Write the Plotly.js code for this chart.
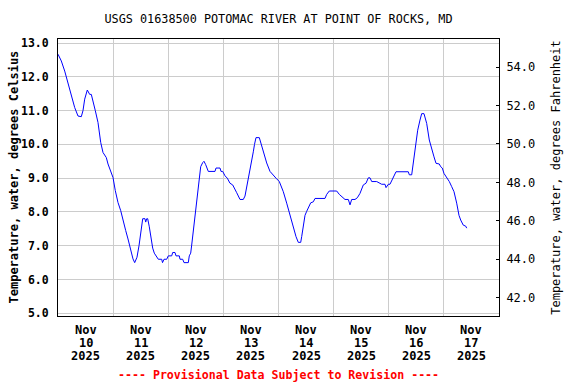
<!DOCTYPE html>
<html><head><meta charset="utf-8">
<script src="https://cdn.plot.ly/plotly-3.0.1.min.js"></script>
<style>html,body{margin:0;padding:0;background:#fff}#chart{width:576px;height:384px}</style>
</head><body><div id="chart"></div>
<script>
// ---- data ----
const chartTitle = 'USGS 01638500 POTOMAC RIVER AT POINT OF ROCKS, MD';
const footerText = '---- Provisional Data Subject to Revision ----';
const leftTitle = 'Temperature, water, degrees Celsius';
const rightTitle = 'Temperature, water, degrees Fahrenheit';
const startUTC = Date.UTC(2025, 10, 10); // Nov 10 2025 00:00
const hoursFromStart = [
  0, 1.44, 2.92, 4.35, 5.79, 7.27, 8.71, 10.14, 10.88, 11.62, 12.76, 13.8, 14.5, 15.24, 16.24, 17.41,
  18.59, 19.59, 21.03, 21.77, 22.94, 23.95, 24.95, 26.12, 27.3, 28.3, 29.47, 30.48, 31.65, 32.65, 33.39,
  34.39, 35.27, 35.7, 36.44, 36.88, 37.88, 38.18, 38.62, 39.05, 39.75, 40.49, 41.23, 41.93, 42.67, 43.67,
  45.15, 45.5, 46.15, 47.32, 48.02, 49.5, 49.94, 50.94, 51.37, 52.81, 53.12, 54.29, 54.86, 56.73, 57.16,
  57.77, 58.21, 58.9, 59.65, 60.08, 60.65, 61.08, 61.52, 62.13, 63.0, 63.56, 64.3, 65.44, 68.35, 68.79,
  70.53, 70.97, 71.7, 72.71, 73.71, 74.88, 76.06, 76.76, 77.8, 79.24, 80.67, 81.41, 82.15, 82.85, 83.59,
  84.33, 85.03, 85.55, 86.2, 87.64, 88.68, 89.38, 90.86, 92.3, 93.74, 94.91, 96.35, 98.09, 99.57, 101.0,
  102.44, 103.62, 104.62, 105.67, 106.1, 106.8, 107.54, 108.28, 109.41, 110.02, 111.15, 111.89, 116.24,
  116.98, 118.12, 121.34, 122.47, 123.51, 124.95, 126.39, 127.13, 127.87, 129.31, 130.31, 131.48, 132.92,
  134.1, 135.1, 135.84, 136.58, 138.76, 140.93, 142.37, 142.81, 143.81, 144.54, 145.98, 147.16, 152.51,
  152.95, 153.99, 154.43, 155.12, 155.86, 156.6, 157.6, 158.34, 159.34, 160.52, 161.65, 162.7, 163.7,
  164.57, 166.0, 166.61, 167.31, 168.05, 169.23, 170.36, 171.4, 172.41, 173.58, 174.58, 175.32, 176.45,
  177.5, 177.94
];
const tempC = [
  12.67, 12.47, 12.17, 11.83, 11.43, 11.09, 10.84, 10.82, 11.0, 11.34, 11.61, 11.48, 11.48, 11.24, 11.0, 10.65,
  10.06, 9.76, 9.61, 9.42, 9.17, 9.02, 8.63, 8.28, 8.04, 7.74, 7.45, 7.2, 6.86, 6.61, 6.5,
  6.66, 7.0, 7.2, 7.56, 7.8, 7.8, 7.7, 7.8, 7.8, 7.56, 7.22, 6.93, 6.78, 6.7, 6.6,
  6.6, 6.5, 6.6, 6.6, 6.7, 6.7, 6.8, 6.8, 6.7, 6.7, 6.6, 6.6, 6.5, 6.5, 6.7,
  6.78, 7.02, 7.46, 7.76, 8.05, 8.44, 8.74, 9.14, 9.34, 9.46, 9.5, 9.4, 9.2, 9.2, 9.3,
  9.3, 9.2, 9.2, 9.07, 9.0, 8.85, 8.8, 8.72, 8.57, 8.37, 8.37, 8.47, 8.72, 9.0, 9.22,
  9.52, 9.78, 10.0, 10.2, 10.2, 9.95, 9.75, 9.45, 9.2, 9.07, 9.0, 8.9, 8.6, 8.26, 7.9,
  7.56, 7.27, 7.1, 7.1, 7.27, 7.52, 7.9, 8.02, 8.18, 8.27, 8.3, 8.4, 8.4,
  8.52, 8.62, 8.62, 8.52, 8.45, 8.37, 8.37, 8.21, 8.37, 8.37, 8.42, 8.55, 8.8,
  8.85, 9.01, 9.01, 8.9, 8.9, 8.82, 8.82, 8.72, 8.82, 8.82, 9.04, 9.19, 9.19,
  9.1, 9.1, 9.34, 9.63, 10.03, 10.42, 10.72, 10.91, 10.91, 10.62, 10.13, 9.83, 9.63,
  9.44, 9.42, 9.34, 9.3, 9.14, 9.02, 8.9, 8.75, 8.6, 8.26, 7.9, 7.76, 7.61,
  7.58, 7.52
];
const dayNumbers = [10, 11, 12, 13, 14, 15, 16, 17];
const monthLabel = 'Nov';
const yearLabel = '2025';
const ticksC = [5, 6, 7, 8, 9, 10, 11, 12, 13];
const ticksF = [42, 44, 46, 48, 50, 52, 54];

// ---- helpers ----
function dateStr(h) {
  return new Date(startUTC + h * 3600000).toISOString().slice(0, 19).replace('T', ' ');
}
const xs = hoursFromStart.map(dateStr);
const MONO = 'DejaVu Sans Mono, monospace';
const boldFont = (s, c) => ({family: MONO, size: s, color: c || '#000', weight: 'bold'});
const regFont = (s, c) => ({family: MONO, size: s, color: c || '#000'});

const traces = [
  {x: xs, y: tempC, type: 'scatter', mode: 'lines', line: {color: '#0000ff', width: 1},
   hoverinfo: 'skip', showlegend: false},
  {x: [xs[0]], y: [null], yaxis: 'y2', type: 'scatter', mode: 'lines', hoverinfo: 'skip', showlegend: false}
];

const annotations = [];
dayNumbers.forEach(d => {
  const noon = dateStr((d - 10) * 24 + 12);
  [[monthLabel, -14], [String(d), -27], [yearLabel, -40]].forEach(([t, sh]) => {
    annotations.push({x: noon, xref: 'x', y: 0, yref: 'paper', yshift: sh, text: t,
      showarrow: false, xanchor: 'center', yanchor: 'middle', font: boldFont(12)});
  });
});
annotations.push({x: 0.5, xref: 'paper', y: -0.213, yref: 'paper', text: footerText, showarrow: false,
  xanchor: 'center', yanchor: 'middle', font: boldFont(11.6, '#ff0000')});
// left axis title (placed as rotated text so it can sit close to the tick labels)
annotations.push({x: -0.102, xref: 'paper', y: 0.5, yref: 'paper', text: leftTitle, textangle: -90,
  showarrow: false, xanchor: 'center', yanchor: 'middle', font: boldFont(12)});

const layout = {
  width: 576, height: 384, autosize: false,
  margin: {l: 58, r: 77, t: 39, b: 68, pad: 0},
  paper_bgcolor: '#fff', plot_bgcolor: '#fff',
  title: {text: chartTitle, x: 0.5, xref: 'paper', y: 1 - 19 / 384, yanchor: 'middle', font: regFont(11.8, '#000')},
  xaxis: {type: 'date', range: [dateStr(0), dateStr(192)], tick0: dateStr(0), dtick: 86400000,
    showgrid: true, gridcolor: '#cccccc', gridwidth: 1, showticklabels: false, ticks: '',
    showline: true, linecolor: '#000', linewidth: 1, mirror: true, zeroline: false, fixedrange: true},
  yaxis: {range: [4.92, 13.12], tickvals: ticksC, ticktext: ticksC.map(v => v.toFixed(1)),
    tickfont: boldFont(11.5), ticks: '', ticklabelstandoff: 6,
    showgrid: true, gridcolor: '#cccccc', gridwidth: 1, zeroline: false,
    showline: true, linecolor: '#000', linewidth: 1, mirror: true},
  yaxis2: {overlaying: 'y', side: 'right', range: [41.05, 55.46], tickvals: ticksF,
    ticktext: ticksF.map(v => v.toFixed(1)), tickfont: regFont(12), ticks: 'inside', ticklen: 3,
    tickcolor: '#000', ticklabelstandoff: 4, showgrid: false, zeroline: false,
    showline: true, linecolor: '#000', linewidth: 1,
    title: {text: rightTitle, font: regFont(12), standoff: 17}},
  annotations: annotations,
  showlegend: false
};

Plotly.newPlot('chart', traces, layout, {staticPlot: true, displayModeBar: false});
</script>
</body></html>
